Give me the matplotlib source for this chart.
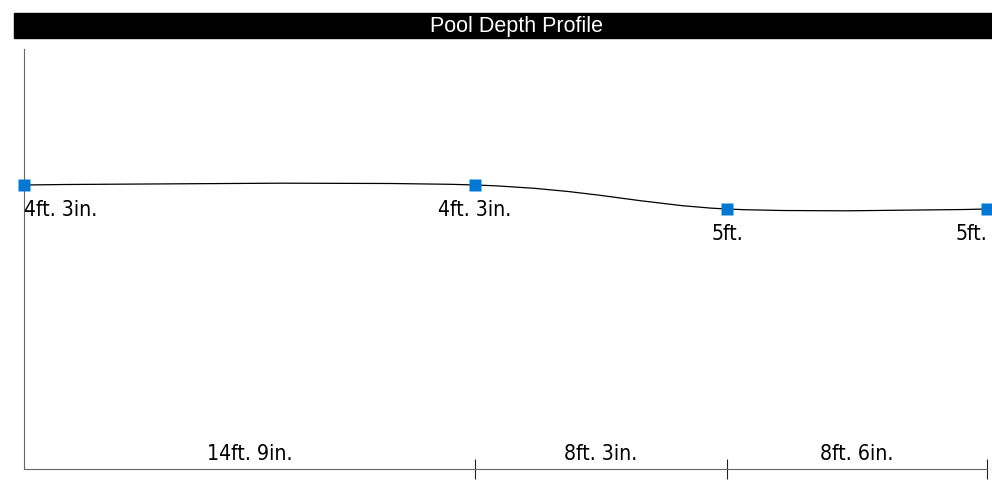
import numpy as np
import matplotlib.pyplot as plt
from matplotlib.path import Path
from matplotlib.patches import PathPatch, Rectangle


# Pool depth profile data (feet)

segment_lengths = [14.75, 8.25, 8.5]
depths = [4.25, 4.25, 5.0, 5.0]
max_depth = 13.125
title = "Pool Depth Profile"


def feet_inches(value):
    ft = int(value)
    inches = int(round((value - ft) * 12))
    if inches == 0:
        return f"{ft}ft."
    return f"{ft}ft. {inches}in."


x = np.concatenate([[0], np.cumsum(segment_lengths)])
y = np.array(depths)

W, H = 992, 485
fig = plt.figure(figsize=(W / 100, H / 100), dpi=100)
ax = fig.add_axes([24 / W, 15 / H, 963 / W, 420 / H])
ax.set_xlim(0, x[-1])
ax.set_ylim(max_depth, 0)

# cardinal spline through the points (tension 0, flat ends)
pts = np.column_stack([x, y])
tang = np.zeros_like(pts)
tang[1:-1] = pts[2:] - pts[:-2]
k = 1 / 6
verts = [pts[0]]
codes = [Path.MOVETO]
for i in range(len(pts) - 1):
    verts += [pts[i] + k * tang[i], pts[i + 1] - k * tang[i + 1], pts[i + 1]]
    codes += [Path.CURVE4] * 3
ax.add_patch(PathPatch(Path(verts, codes), fill=False, edgecolor='black', lw=0.9, zorder=2))

ax.plot(x, y, 's', ms=8.6, color='#0078d4', mec='none', clip_on=False, zorder=3)

label_font = dict(family='DejaVu Sans', fontstretch='condensed', fontsize=15.2, color='black')
for i, (xi, yi) in enumerate(zip(x, y)):
    ha = 'left' if i == 0 else ('right' if i == len(x) - 1 else 'center')
    ax.annotate(feet_inches(yi), (xi, yi), xytext=(0, -21.6), textcoords='offset points',
                ha=ha, va='baseline', **label_font)

mids = (x[:-1] + x[1:]) / 2
for m, seg in zip(mids, segment_lengths):
    ax.text(m, 10 / 420, feet_inches(seg), transform=ax.get_xaxis_transform(),
            ha='center', va='baseline', **label_font)

for s in ['top', 'right']:
    ax.spines[s].set_visible(False)
for s in ['left', 'bottom']:
    ax.spines[s].set_color('#666666')
    ax.spines[s].set_linewidth(0.8)
ax.set_xticks(x[1:])
ax.set_xticklabels([])
ax.set_yticks([])
ax.tick_params(axis='x', direction='inout', length=13.7, width=0.8, color='#222222')

# title bar
fig.add_artist(Rectangle((14 / W, 1 - 39 / H), (W - 14) / W, 25 / H,
                         transform=fig.transFigure, color='black'))
fig.text(516 / W, 1 - 26.5 / H, title, ha='center', va='center', color='white',
         family='Liberation Sans', fontsize=15.5)

fig.savefig('out.png', dpi=100)
